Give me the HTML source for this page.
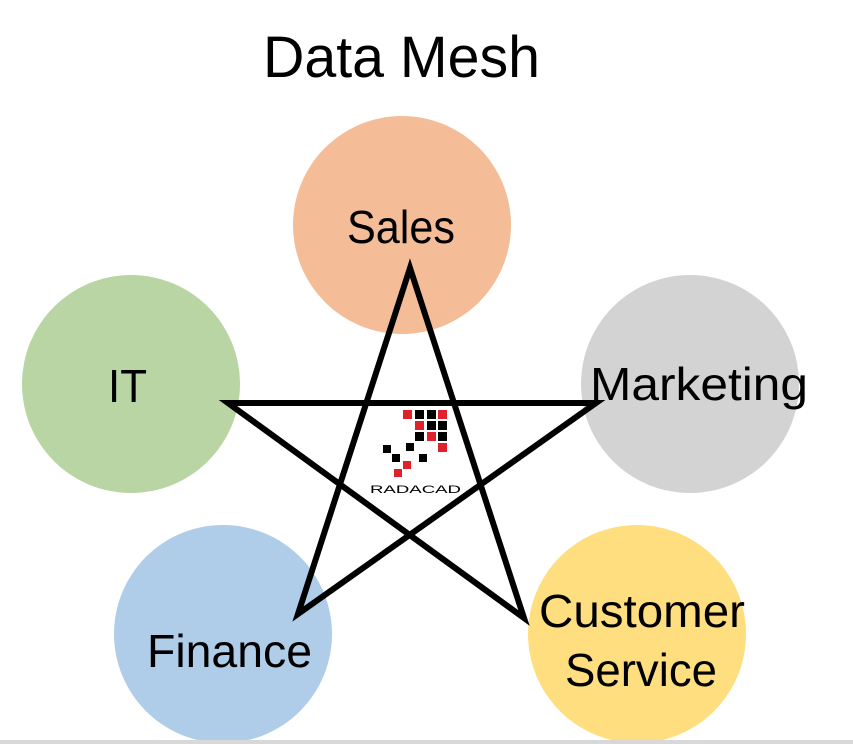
<!DOCTYPE html>
<html><head><meta charset="utf-8"><style>html,body{margin:0;padding:0;background:#fff}svg{display:block}</style></head>
<body>
<svg width="853" height="744" viewBox="0 0 853 744" xmlns="http://www.w3.org/2000/svg" font-family="'Liberation Sans', sans-serif">
<rect width="853" height="744" fill="#fff"/>
<text x="263" y="77" font-size="58" textLength="277" lengthAdjust="spacingAndGlyphs">Data Mesh</text>
<circle cx="402" cy="225" r="109" fill="#F4BD97"/>
<circle cx="131" cy="384" r="109" fill="#B8D5A3"/>
<circle cx="690" cy="384" r="109" fill="#D3D3D3"/>
<circle cx="223" cy="634" r="109" fill="#AFCDE9"/>
<circle cx="637" cy="634" r="109" fill="#FEDE7E"/>
<g font-size="46" fill="#000">
<text x="347" y="243" textLength="108" lengthAdjust="spacingAndGlyphs">Sales</text>
<text x="108" y="402" textLength="39" lengthAdjust="spacingAndGlyphs">IT</text>
<text x="590" y="400" textLength="218" lengthAdjust="spacingAndGlyphs">Marketing</text>
<text x="147" y="667" textLength="165" lengthAdjust="spacingAndGlyphs">Finance</text>
<text x="539" y="627" textLength="206" lengthAdjust="spacingAndGlyphs">Customer</text>
<text x="565" y="686" textLength="152" lengthAdjust="spacingAndGlyphs">Service</text>
</g>
<polygon points="410,268 298,614 596,403 228,403 524,618" fill="none" stroke="#000" stroke-width="6" stroke-linejoin="miter"/>
<g>
<rect x="403" y="410" width="9" height="9" fill="#E0202A"/>
<rect x="415" y="410" width="9" height="9" fill="#000"/>
<rect x="427" y="410" width="9" height="9" fill="#000"/>
<rect x="438" y="410" width="9" height="9" fill="#E0202A"/>
<rect x="415" y="421" width="9" height="9" fill="#E0202A"/>
<rect x="427" y="421" width="9" height="9" fill="#000"/>
<rect x="438" y="421" width="9" height="9" fill="#000"/>
<rect x="415" y="432" width="9" height="9" fill="#000"/>
<rect x="427" y="432" width="9" height="9" fill="#E0202A"/>
<rect x="438" y="432" width="9" height="9" fill="#000"/>
<rect x="438" y="443" width="9" height="9" fill="#E0202A"/>
<rect x="406" y="443" width="8" height="8" fill="#000"/>
<rect x="383" y="445" width="8" height="8" fill="#000"/>
<rect x="392" y="454" width="8" height="8" fill="#000"/>
<rect x="419" y="454" width="8" height="8" fill="#000"/>
<rect x="403" y="461" width="8" height="8" fill="#E0202A"/>
<rect x="394" y="469" width="8" height="8" fill="#E0202A"/>
<text x="370" y="493" font-size="11" textLength="91" lengthAdjust="spacingAndGlyphs">RADACAD</text>
</g>
<rect x="0" y="740" width="853" height="4" fill="#d8d8d8"/>
</svg>
</body></html>
